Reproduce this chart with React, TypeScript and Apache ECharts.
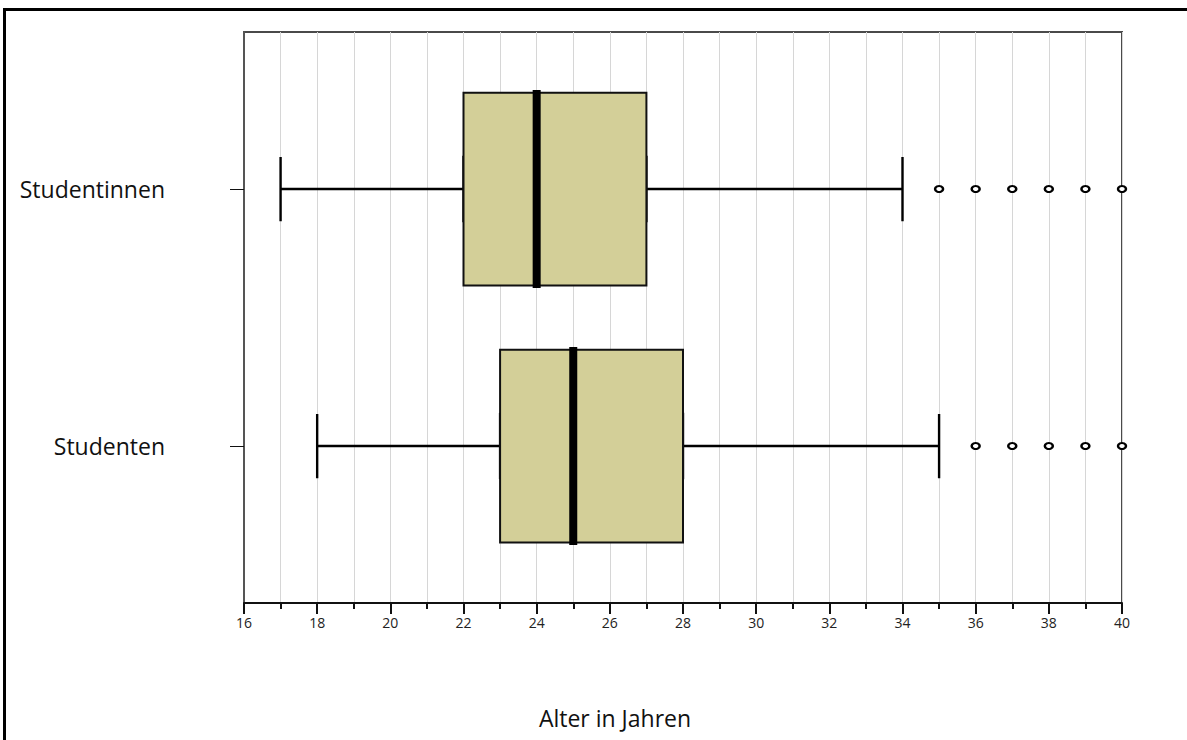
import React, { useEffect, useRef } from "react";
import * as echarts from "echarts";

// Groups, top to bottom
const groups = ["Studentinnen", "Studenten"];
// Five-number summaries per group: [lower whisker, Q1, median, Q3, upper whisker]
const whiskerLow = [17, 18];
const q1 = [22, 23];
const median = [24, 25];
const q3 = [27, 28];
const whiskerHigh = [34, 35];
// Outlying ages per group
const outliersStudentinnen = [35, 36, 37, 38, 39, 40];
const outliersStudenten = [36, 37, 38, 39, 40];

const axisMin = 16;
const axisMax = 40;
const axisStep = 2;
const axisTitle = "Alter in Jahren";

const FONT = "'Open Sans', 'DejaVu Sans', sans-serif";
const BOX_FILL = "#d3cf98";

export default function App() {
  const ref = useRef<HTMLDivElement>(null);

  useEffect(() => {
    if (!ref.current) return;
    const chart = echarts.init(ref.current, undefined, { renderer: "svg" });

    const whiskerData = groups.map((_, i) => [whiskerLow[i], q1[i], median[i], q3[i], whiskerHigh[i]]);
    const boxData = groups.map((_, i) => [q1[i], q1[i], median[i], q3[i], q3[i]]);
    const medianData = groups.map((_, i) => [median[i], median[i], median[i], median[i], median[i]]);
    const outlierData = [
      ...outliersStudentinnen.map((v) => [v, groups[0]]),
      ...outliersStudenten.map((v) => [v, groups[1]]),
    ];

    const catAxis = (index: number, visible: boolean) => ({
      type: "category" as const,
      gridIndex: 1,
      data: groups,
      inverse: true,
      show: visible,
      axisLine: { show: false },
      axisTick: { show: visible, alignWithLabel: true, length: 14, lineStyle: { color: "#111", width: 1 } },
      axisLabel: { show: visible, margin: 79, fontSize: 23, color: "#111", fontFamily: FONT },
      splitLine: { show: false },
      id: "cat" + index,
    });

    chart.setOption({
      animation: false,
      backgroundColor: "#fff",
      grid: [
        { left: 244, right: 65, top: 32, bottom: 137, show: true, borderColor: "#4a4a4a", borderWidth: 2, backgroundColor: "transparent" },
        { left: 244, right: 65, top: 60.5, bottom: 165.5 },
      ],
      xAxis: [
        {
          type: "value",
          gridIndex: 0,
          min: axisMin,
          max: axisMax,
          interval: axisStep,
          axisLine: { show: true, lineStyle: { color: "#111", width: 2 } },
          axisTick: { show: true, length: 11, lineStyle: { color: "#111", width: 2 } },
          minorTick: { show: true, splitNumber: 2, length: 6, lineStyle: { color: "#111", width: 2 } },
          axisLabel: { fontSize: 14, color: "#222", margin: 12, fontFamily: FONT },
          splitLine: { show: true, lineStyle: { color: "#d6d6d6", width: 1 } },
          minorSplitLine: { show: true, lineStyle: { color: "#d6d6d6", width: 1 } },
        },
        { type: "value", gridIndex: 1, min: axisMin, max: axisMax, interval: axisStep, show: false, splitLine: { show: false } },
      ],
      yAxis: [
        {
          type: "value",
          gridIndex: 0,
          min: 0,
          max: 1,
          axisLine: { show: true, lineStyle: { color: "#555", width: 2 } },
          axisTick: { show: false },
          axisLabel: { show: false },
          splitLine: { show: false },
        },
        catAxis(1, true),
        catAxis(2, false),
        catAxis(3, false),
      ],
      series: [
        {
          name: "whiskers",
          type: "boxplot",
          layout: "horizontal",
          xAxisIndex: 1,
          yAxisIndex: 1,
          boxWidth: ["25%", "25%"],
          itemStyle: { color: "transparent", borderColor: "#000", borderWidth: 2.4 },
          data: whiskerData,
        },
        {
          name: "box",
          type: "boxplot",
          layout: "horizontal",
          xAxisIndex: 1,
          yAxisIndex: 2,
          boxWidth: ["75%", "75%"],
          itemStyle: { color: BOX_FILL, borderColor: "#111", borderWidth: 2 },
          data: boxData,
        },
        {
          name: "median",
          type: "boxplot",
          layout: "horizontal",
          xAxisIndex: 1,
          yAxisIndex: 3,
          boxWidth: ["77%", "77%"],
          itemStyle: { color: "#000", borderColor: "#000", borderWidth: 8 },
          data: medianData,
        },
        {
          name: "outliers",
          type: "scatter",
          xAxisIndex: 1,
          yAxisIndex: 1,
          symbol: "circle",
          symbolSize: [8, 6],
          itemStyle: { color: "#fff", borderColor: "#000", borderWidth: 2.2, opacity: 1 },
          clip: true,
          data: outlierData,
        },
      ],
      graphic: [
        {
          type: "rect",
          shape: { x: 4.5, y: 9.5, width: 1400, height: 1000 },
          style: { fill: "none", stroke: "#000", lineWidth: 3 },
          silent: true,
        },
        {
          type: "text",
          x: 615,
          y: 718,
          style: {
            text: axisTitle,
            fontSize: 23,
            fontFamily: FONT,
            fill: "#111",
            align: "center",
            verticalAlign: "middle",
          },
        },
      ],
    });

    return () => chart.dispose();
  }, []);

  return (
    <div
      ref={ref}
      style={{ position: "fixed", left: 0, top: 0, width: 1187, height: 740, background: "#fff" }}
    />
  );
}
